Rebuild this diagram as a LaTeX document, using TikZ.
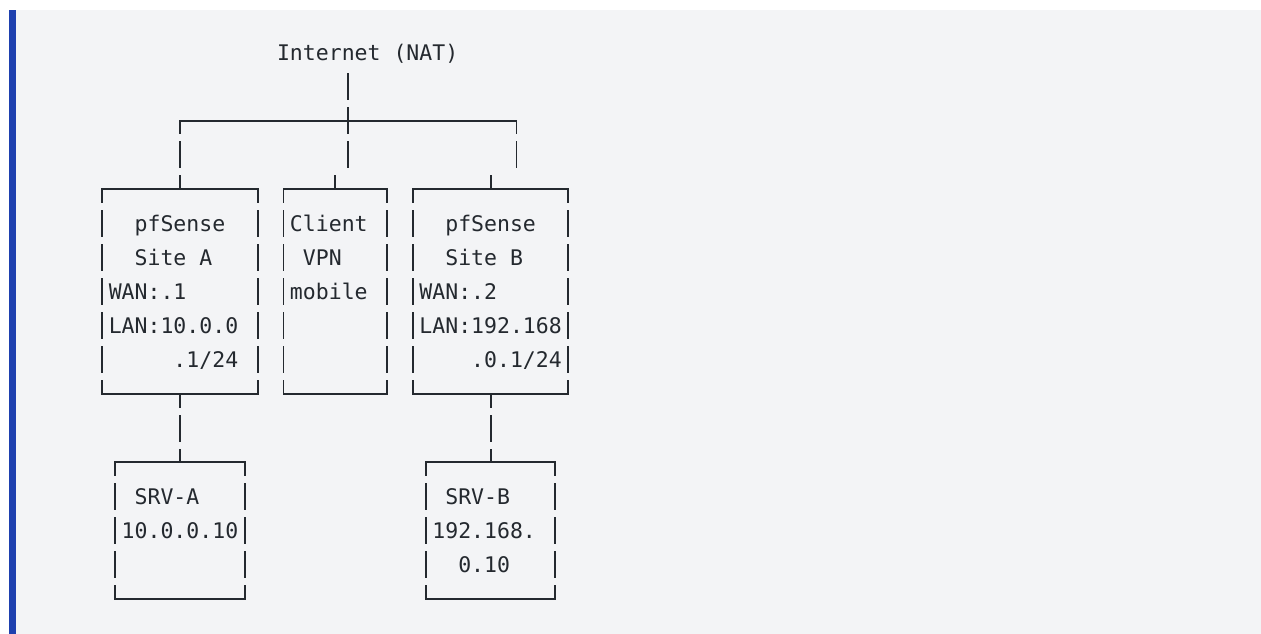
\documentclass[tikz,border=0pt]{standalone}
\usepackage{fontspec}
\newfontfamily\monofam{DejaVu Sans Mono}
\definecolor{codebg}{RGB}{243,244,246}
\definecolor{quotebar}{RGB}{30,64,175}
\definecolor{ink}{RGB}{36,41,47}
\newlength\cw \setlength\cw{12.944pt}
\newlength\rh \setlength\rh{34.16pt}
\newcommand\rw{\vrule height 24.92pt depth 9.24pt width 0pt}
\newcommand\cells[1]{\hspace*{#1\cw}}
\tikzstyle{lbl}=[inner sep=0pt,outer sep=0pt,text=ink,font=\monofam\fontsize{21.5pt}{34.16pt}\selectfont]
\tikzstyle{box}=[lbl,anchor=north west,align=left,inner xsep=.5\cw,inner ysep=.5\rh]
\tikzstyle{ln}=[ink,line width=1.8pt,line cap=rect]
\tikzstyle{vrow}=[ln,dash pattern=on 25.36pt off 8.8pt,dash phase=12.68pt]
\tikzstyle{vgap}=[ln,dash pattern=on 25.36pt off 8.8pt,dash phase=29.76pt]

\begin{document}
\begin{tikzpicture}[x=1pt,y=-1pt]
\useasboundingbox (0,0) rectangle (1261,634);
\fill[white] (0,0) rectangle (1261,634);
\fill[codebg] (14,10) rectangle (1261,634);
\fill[quotebar] (8.5,10) rectangle (16,634);
\begin{scope}[shift={(102.3,52.4)},x=\cw,y=-\rh]
% text grid: one unit = one character cell
\node[lbl] (inet) at (20.5,0) {\rw Internet\cells{1}(NAT)};
\node[box,text width=11\cw] (siteA) at (0,4) {\rw\cells{2}pfSense\\\rw\cells{2}Site\cells{1}A\\\rw WAN:.1\\\rw LAN:10.0.0\\\rw\cells{5}.1/24};
\node[box,text width=7\cw] (client) at (14,4) {\rw Client\\\rw\cells{1}VPN\\\rw mobile\\\rw\\\rw};
\node[box,text width=11\cw] (siteB) at (24,4) {\rw\cells{2}pfSense\\\rw\cells{2}Site\cells{1}B\\\rw WAN:.2\\\rw LAN:192.168\\\rw\cells{4}.0.1/24};
\node[box,text width=9\cw] (srvA) at (1,12) {\rw\cells{1}SRV-A\\\rw 10.0.0.10\\\rw};
\node[box,text width=9\cw] (srvB) at (25,12) {\rw\cells{1}SRV-B\\\rw 192.168.\\\rw\cells{2}0.10};

\foreach \b in {siteA,client,siteB,srvA,srvB}{
  \draw[ln] (\b.north west) -- (\b.north east) (\b.south west) -- (\b.south east);
  \draw[vrow] (\b.north west) -- (\b.south west) (\b.north east) -- (\b.south east);
}

% links
\coordinate (barL) at (6,2);
\coordinate (barR) at (32,2);
\coordinate (hub) at (19,2);
\coordinate (dropM) at (19,3.5);
\coordinate (dropR) at (32,3.5);
\draw[ln] (barL) -- (barR);
\draw[vgap] (inet.south -| hub) -- (dropM);
\draw[vrow] (barL) -- (siteA.north);
\draw[vrow] (barR) -- (dropR);
\draw[vgap] (client.north |- dropM) -- (client.north);
\draw[vgap] (siteB.north |- dropR) -- (siteB.north);
\draw[vrow] (siteA.south) -- (srvA.north);
\draw[vrow] (siteB.south) -- (srvB.north);
\end{scope}
\end{tikzpicture}
\end{document}
